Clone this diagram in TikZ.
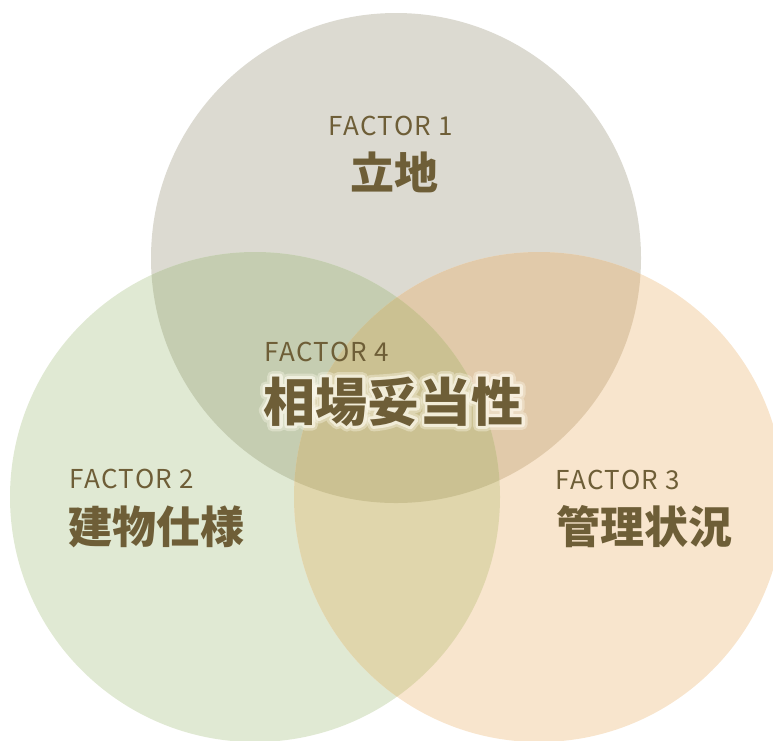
\documentclass[tikz,border=0pt]{standalone}
\usepackage{fontspec}
\setmainfont{Noto Sans CJK JP}
\newfontfamily\facfont{Noto Sans CJK JP}[LetterSpace=5.5]
\definecolor{cgrey}{RGB}{220,218,209}
\definecolor{cgreen}{RGB}{224,233,211}
\definecolor{cpeach}{RGB}{248,229,205}
\definecolor{cTL}{RGB}{197,205,177}
\definecolor{cTR}{RGB}{225,202,170}
\definecolor{cLR}{RGB}{224,214,172}
\definecolor{cC}{RGB}{203,193,146}
\definecolor{txt}{RGB}{110,94,55}
\definecolor{glowc}{RGB}{255,252,240}
\newcommand\strokedtext[2]{\special{pdf:literal direct #1 w 1 j 1 0.988 0.941 RG 2 Tr}#2\special{pdf:literal direct 0 Tr}}
\begin{document}
\begin{tikzpicture}[x=1pt,y=-1pt,
  factor/.style={text=txt, font=\facfont\fontsize{26}{26}\selectfont, inner sep=0pt, anchor=base},
  title/.style={text=txt, font=\fontsize{44}{44}\selectfont\bfseries, inner sep=0pt, anchor=base},
  bigtitle/.style={title, font=\fontsize{52}{52}\selectfont\bfseries},
  glow/.style={bigtitle, text=glowc}]
\path[use as bounding box] (0,0) rectangle (773,740);
\clip (0,0) rectangle (773,740);
% circles
\fill[cgrey] (396,258) circle (245);
\fill[cgreen] (255,497) circle (245);
\fill[cpeach] (539,497) circle (245);
\begin{scope}
  \clip (396,258) circle (245);
  \fill[cTL] (255,497) circle (245);
  \fill[cTR] (539,497) circle (245);
\end{scope}
\begin{scope}
  \clip (255,497) circle (245);
  \fill[cLR] (539,497) circle (245);
  \clip (539,497) circle (245);
  \fill[cC] (396,258) circle (245);
\end{scope}
% labels
\node[factor] (f1) at (391,135.5) {FACTOR 1};
\node[title] (t1) at (394,189.5) {立地};
\node[factor] (f4) at (327,361) {FACTOR 4};
\begin{scope}[opacity=0.35]
  \node[glow] (g1) at (393.5,421) {\strokedtext{11}{相場妥当性}};
\end{scope}
\begin{scope}[opacity=0.6]
  \node[glow] (g2) at (393.5,421) {\strokedtext{6}{相場妥当性}};
\end{scope}
\node[bigtitle] (t4) at (393.5,421) {相場妥当性};
\node[factor] (f2) at (132,488) {FACTOR 2};
\node[title] (t2) at (156,543.5) {建物仕様};
\node[factor] (f3) at (618,489) {FACTOR 3};
\node[title] (t3) at (644,543.5) {管理状況};
\end{tikzpicture}
\end{document}
